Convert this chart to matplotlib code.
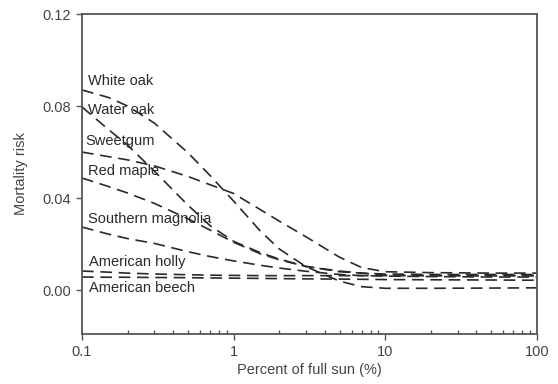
import matplotlib.pyplot as plt
from matplotlib.ticker import FixedLocator, NullFormatter, LogLocator

plt.rcParams['font.family'] = ['Liberation Sans', 'DejaVu Sans']

# percent of full sun, sampled along the curves
sun = [0.1, 0.15, 0.2, 0.3, 0.5, 0.7, 1, 1.5, 2, 3, 5, 7, 10, 20, 50, 100]

# mortality risk
white_oak = [0.0870, 0.0837, 0.0800, 0.0726, 0.0597, 0.0498, 0.0387, 0.0257,
             0.0179, 0.0102, 0.0039, 0.0015, 0.0008, 0.0008, 0.0009, 0.0010]
water_oak = [0.0796, 0.0697, 0.0630, 0.0517, 0.0369, 0.0280, 0.0212, 0.0163,
             0.0135, 0.0103, 0.0080, 0.0074, 0.0070, 0.0068, 0.0068, 0.0068]
sweetgum = [0.0600, 0.0580, 0.0566, 0.0540, 0.0494, 0.0458, 0.0420, 0.0350,
            0.0300, 0.0232, 0.0143, 0.0098, 0.0080, 0.0076, 0.0074, 0.0074]
red_maple = [0.0487, 0.0450, 0.0422, 0.0377, 0.0310, 0.0261, 0.0208, 0.0158,
             0.0132, 0.0103, 0.0083, 0.0074, 0.0065, 0.0063, 0.0063, 0.0063]
southern_magnolia = [0.0274, 0.0243, 0.0224, 0.0203, 0.0167, 0.0146, 0.0127, 0.0108,
                     0.0096, 0.0082, 0.0068, 0.0063, 0.0061, 0.0059, 0.0057, 0.0057]
american_holly = [0.0083, 0.0078, 0.0074, 0.0070, 0.0067, 0.0065, 0.0064, 0.0063,
                  0.0063, 0.0063, 0.0063, 0.0063, 0.0063, 0.0063, 0.0063, 0.0063]
american_beech = [0.0057, 0.0056, 0.0056, 0.0055, 0.0054, 0.0053, 0.0052, 0.0051,
                  0.0050, 0.0049, 0.0048, 0.0047, 0.0046, 0.0045, 0.0044, 0.0043]

species = ['White oak', 'Water oak', 'Sweetgum', 'Red maple',
           'Southern magnolia', 'American holly', 'American beech']
curves = [white_oak, water_oak, sweetgum, red_maple,
          southern_magnolia, american_holly, american_beech]

# where each name sits (x in % sun, y in risk)
label_x = [0.1095, 0.1095, 0.1045, 0.1095, 0.1095, 0.111, 0.111]
label_y = [0.0909, 0.0783, 0.0648, 0.0518, 0.0309, 0.0122, 0.0009]

ink = '#2a2a2a'
fig = plt.figure(figsize=(5.58, 3.84), dpi=100)
ax = fig.add_axes([0.147, 0.130, 0.815, 0.8335])

for vals in curves:
    ax.plot(sun, vals, color=ink, lw=1.2, dashes=(7, 4))

for name, lx, ly in zip(species, label_x, label_y):
    ax.text(lx, ly, name, fontsize=10.5, color=ink, va='center', ha='left')

ax.set_xscale('log')
ax.set_xlim(0.1, 100)
ax.set_ylim(-0.0191, 0.12)

ax.set_xticks([0.1, 1, 10, 100])
ax.set_xticklabels(['0.1', '1', '10', '100'])
ax.xaxis.set_minor_locator(LogLocator(base=10, subs=range(2, 10)))
ax.xaxis.set_minor_formatter(NullFormatter())
ax.yaxis.set_major_locator(FixedLocator([0.0, 0.04, 0.08, 0.12]))
ax.set_yticklabels(['0.00', '0.04', '0.08', '0.12'])

ax.tick_params(axis='x', which='major', direction='out', length=4, width=1,
               color='#555555', labelsize=10.5, labelcolor='#444444', pad=4)
ax.tick_params(axis='x', which='minor', direction='in', length=3, width=1,
               color='#555555')
ax.tick_params(axis='y', which='major', direction='out', length=4, width=1,
               color='#555555', labelsize=10.5, labelcolor='#444444', pad=4)

for sp in ax.spines.values():
    sp.set_color('#555555')
    sp.set_linewidth(1.3)

ax.set_xlabel('Percent of full sun (%)', fontsize=10.5, color='#444444', labelpad=3)
ax.set_ylabel('Mortality risk', fontsize=10.5, color='#444444', labelpad=10)

fig.savefig('out.png', dpi=100)
